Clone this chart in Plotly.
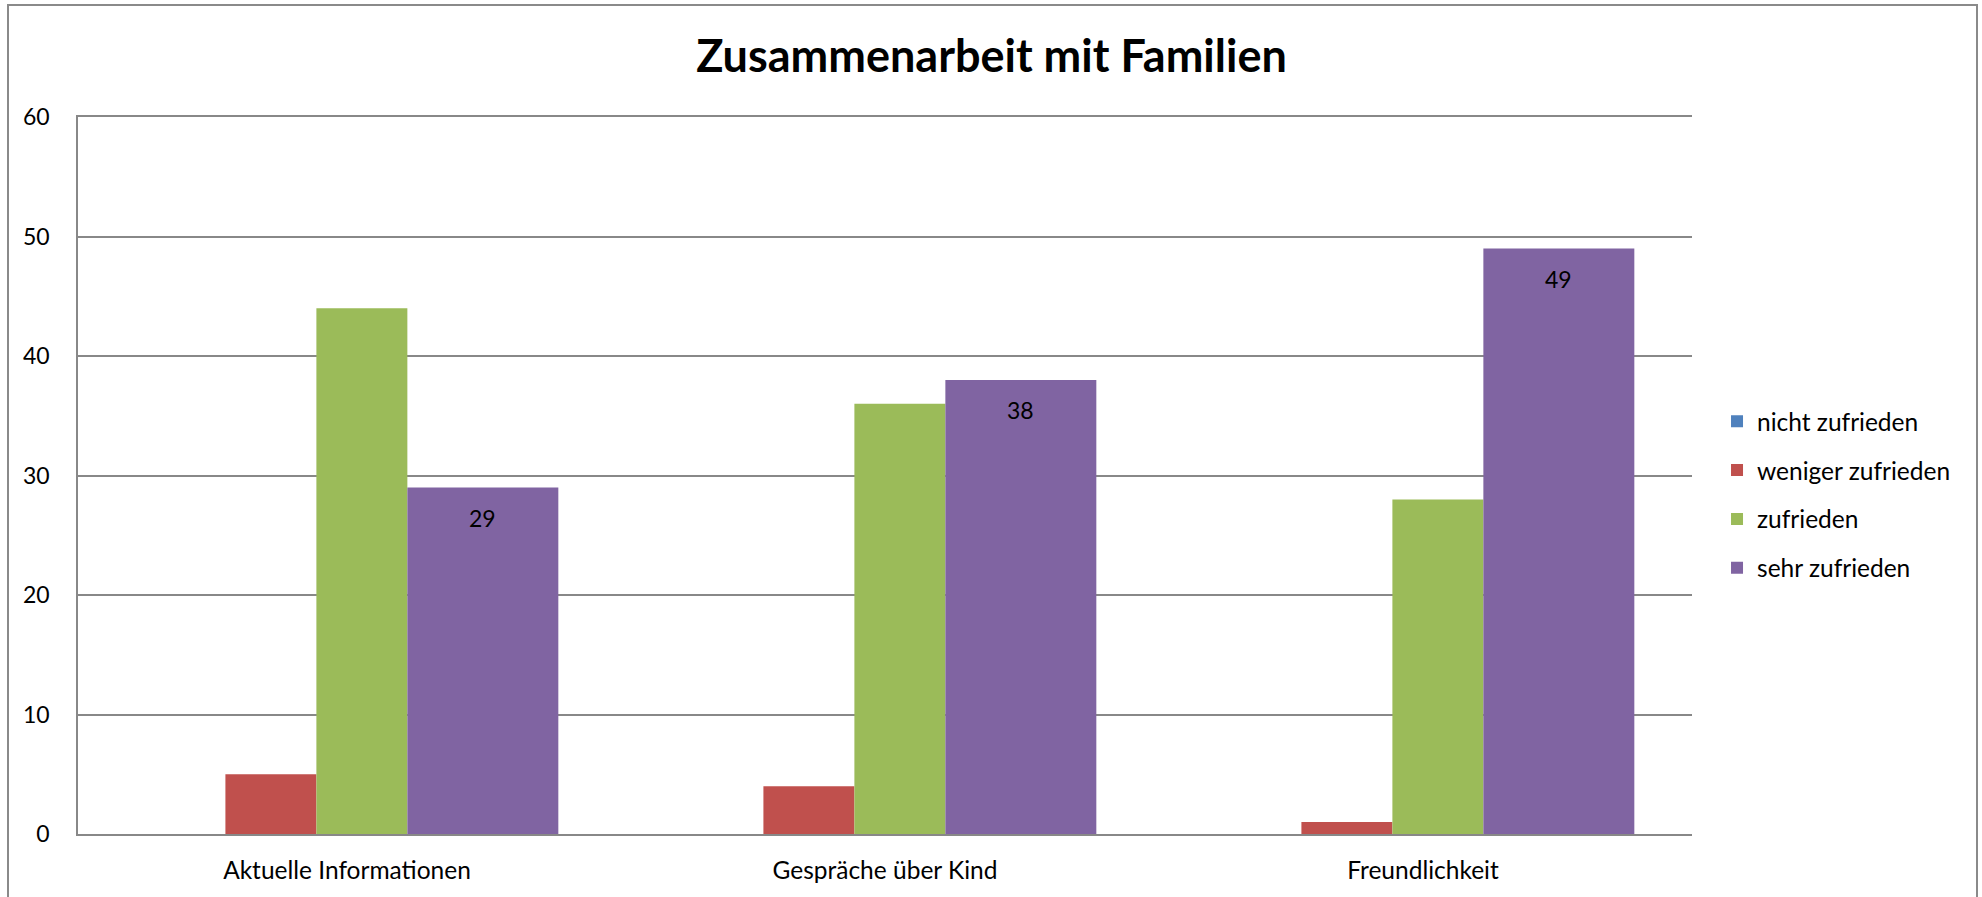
import plotly.graph_objects as go

categories = ["Aktuelle Informationen", "Gespräche über Kind", "Freundlichkeit"]
series_names = ["nicht zufrieden", "weniger zufrieden", "zufrieden", "sehr zufrieden"]
nicht_zufrieden = [0, 0, 0]
weniger_zufrieden = [5, 4, 1]
zufrieden = [44, 36, 28]
sehr_zufrieden = [29, 38, 49]
y_ticks = [0, 10, 20, 30, 40, 50, 60]

W, H = 1982, 897
ML, MR, MT, MB = 78, 290, 117, 63
PW, PH = W - ML - MR, H - MT - MB

colors = ["#4F81BD", "#C0504D", "#9BBB59", "#8064A2"]
offsets = [-0.3951, -0.2260, -0.0569, 0.1122]
widths = [0.1691, 0.1691, 0.1691, 0.2806]
values = [nicht_zufrieden, weniger_zufrieden, zufrieden, sehr_zufrieden]

FONT = "Lato"
fig = go.Figure()
for name, vals, col, off, wd in zip(series_names, values, colors, offsets, widths):
    fig.add_trace(go.Bar(
        x=categories, y=vals, name=name, legendgroup=name,
        marker=dict(color=col, line=dict(width=0)),
        offset=off, width=wd,
    ))

# data labels for the last series
for i, v in enumerate(sehr_zufrieden):
    fig.add_annotation(
        x=i + offsets[3] + widths[3] / 2, y=v, xref="x", yref="y",
        text=str(v), showarrow=False, yshift=-30.5, yanchor="middle",
        font=dict(family=FONT, size=23, color="#000000"),
    )

grid = "#888888"
# outer chart border
fig.add_shape(
    type="rect", xref="paper", yref="paper",
    x0=(8 - ML) / PW, x1=(1977 - ML) / PW,
    y0=(MT + PH - 905) / PH, y1=(MT + PH - 5) / PH,
    line=dict(color="#8a8a8a", width=2), fillcolor="rgba(0,0,0,0)", layer="below",
)

fig.update_layout(
    width=W, height=H,
    margin=dict(l=ML, r=MR, t=MT, b=MB, autoexpand=False),
    paper_bgcolor="white", plot_bgcolor="white",
    barmode="overlay",
    title=dict(
        text="<b>Zusammenarbeit mit Familien</b>",
        x=991.5 / W, xref="container", xanchor="center",
        y=1 - 56.5 / H, yref="container", yanchor="middle",
        font=dict(family=FONT, size=45, color="#000000"),
    ),
    legend=dict(
        x=1.0155, xanchor="left", y=0.607, yanchor="top",
        font=dict(family=FONT, size=24.5, color="#000000"),
        tracegroupgap=14, traceorder="grouped",
        bgcolor="rgba(0,0,0,0)",
    ),
    showlegend=True,
)
fig.update_xaxes(
    type="category", range=[-0.5, 2.5],
    showgrid=False, showline=True, linecolor=grid, linewidth=1.5, mirror=True,
    ticks="", tickfont=dict(family=FONT, size=24.5, color="#000000"),
    ticklabelstandoff=14,
)
fig.update_yaxes(
    range=[0, 60], tickvals=y_ticks,
    showgrid=True, gridcolor=grid, gridwidth=1.5,
    showline=True, linecolor=grid, linewidth=1.5, zeroline=False,
    ticks="", tickfont=dict(family=FONT, size=23, color="#000000"),
    ticklabelstandoff=22,
)

fig.write_html(
    "out.html",
    config={"displayModeBar": False},
    post_script="document.body.style.margin='0';document.body.style.overflow='hidden';",
)
